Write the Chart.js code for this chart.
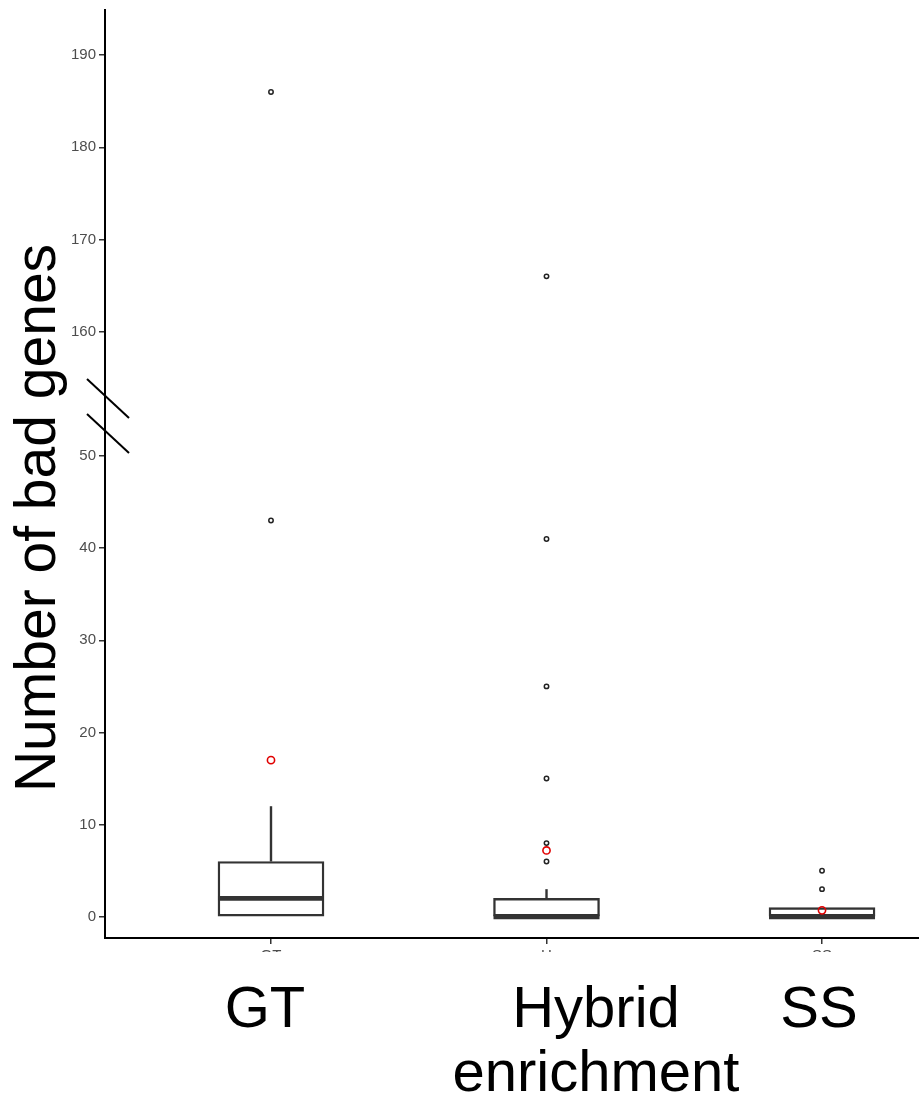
<!DOCTYPE html>
<html>
<head>
<meta charset="utf-8">
<script src="https://cdn.jsdelivr.net/npm/chart.js@4.4.1/dist/chart.umd.min.js"></script>
<style>
  body { margin: 0; background: #fff; }
  #wrap { position: relative; width: 919px; height: 1097px; overflow: hidden; font-family: "Liberation Sans", Arial, sans-serif; }
  #chart { position: absolute; left: 0; top: 0; }
  .cover { position: absolute; left: 0; top: 952px; width: 919px; height: 145px; background: #fff; }
  .xlab { position: absolute; top: 975px; font-size: 58px; line-height: 64px; color: #000; text-align: center; transform: translateX(-50%); white-space: nowrap; }
  .ytitle { position: absolute; left: -265px; top: 486px; width: 600px; height: 64px; font-size: 57px; line-height: 64px; text-align: center; color: #000; transform: rotate(-90deg); white-space: nowrap; }
</style>
</head>
<body>
<div id="wrap">
  <canvas id="chart" width="931" height="1097"></canvas>
  <div class="cover"></div>
  <div class="xlab" style="left:265px">GT</div>
  <div class="xlab" style="left:596px">Hybrid<br>enrichment</div>
  <div class="xlab" style="left:819px">SS</div>
  <div class="ytitle">Number of bad genes</div>
</div>
<script>
// groups and box statistics
const groups = ['GT', 'H', 'SS'];
const q1 = [0, 0, 0];
const medians = [2, 0, 0];
const q3 = [6, 2, 1];
const whiskerLow = [0, 0, 0];
const whiskerHigh = [12, 3, 1];
const means = [17, 7.2, 0.7];
const outliers = [[43, 186], [6, 8, 15, 25, 41, 166], [3, 5]];
const lowerTicks = [0, 10, 20, 30, 40, 50];
const upperTicks = [160, 170, 180, 190];

// broken axis: everything above breakAbove is shifted down by breakShift
const breakAbove = 100;
const breakShift = 96.5;
function toAxis(v) { return v > breakAbove ? v - breakShift : v; }

const boxHalf = 0.1924; // half box width in x units

const datasets = [];

datasets.push({
  type: 'bar',
  data: groups.map((g, i) => ({ x: i + 1, y: [q1[i], q3[i]] })),
  backgroundColor: '#ffffff',
  borderColor: '#333333',
  borderWidth: 2.4,
  borderSkipped: false,
  barThickness: 106,
  grouped: false,
  order: 5
});

groups.forEach((g, i) => {
  datasets.push({
    type: 'line',
    data: [{ x: i + 1, y: q3[i] }, { x: i + 1, y: whiskerHigh[i] }],
    borderColor: '#333333',
    borderWidth: 2.4,
    pointRadius: 0,
    pointHoverRadius: 0,
    order: 4
  });
  datasets.push({
    type: 'line',
    data: [{ x: i + 1, y: q1[i] }, { x: i + 1, y: whiskerLow[i] }],
    borderColor: '#333333',
    borderWidth: 2.4,
    pointRadius: 0,
    pointHoverRadius: 0,
    order: 4
  });
  // median
  datasets.push({
    type: 'line',
    data: [{ x: i + 1 - boxHalf, y: medians[i] }, { x: i + 1 + boxHalf, y: medians[i] }],
    borderColor: '#333333',
    borderWidth: 4.8,
    borderCapStyle: 'butt',
    pointRadius: 0,
    pointHoverRadius: 0,
    order: 3
  });
});

const outlierPoints = [];
outliers.forEach((arr, i) => arr.forEach(v => outlierPoints.push({ x: i + 1, y: toAxis(v) })));
datasets.push({
  type: 'scatter',
  data: outlierPoints,
  pointRadius: 2.2,
  borderColor: '#222222',
  borderWidth: 1.5,
  backgroundColor: '#ffffff',
  order: 2
});

datasets.push({
  type: 'scatter',
  data: groups.map((g, i) => ({ x: i + 1, y: means[i] })),
  pointRadius: 3.6,
  borderColor: '#e00000',
  borderWidth: 1.6,
  backgroundColor: 'rgba(0,0,0,0)',
  order: 1
});

function clearPadding(scale) {
  scale.paddingLeft = 0;
  scale.paddingRight = 0;
  scale.paddingTop = 0;
  scale.paddingBottom = 0;
}

// the two slashes on the y axis marking the break
const breakMarks = {
  id: 'breakMarks',
  afterDraw(chart) {
    const ctx = chart.ctx;
    const y = chart.scales.y;
    const cx = chart.chartArea.left + 3;
    const cy = y.getPixelForValue(54.35);
    ctx.save();
    ctx.strokeStyle = '#000';
    ctx.lineWidth = 2;
    [-17.5, 17.5].forEach(off => {
      ctx.beginPath();
      ctx.moveTo(cx - 21, cy + off - 19.5);
      ctx.lineTo(cx + 21, cy + off + 19.5);
      ctx.stroke();
    });
    ctx.restore();
  }
};

new Chart(document.getElementById('chart'), {
  type: 'bar',
  data: { datasets: datasets },
  options: {
    responsive: false,
    animation: false,
    layout: { padding: { top: 10, left: 0, right: 12, bottom: 0 } },
    plugins: { legend: { display: false }, tooltip: { enabled: false } },
    scales: {
      x: {
        type: 'linear',
        min: 0.3975,
        max: 3.352,
        offset: false,
        afterBuildTicks: scale => { scale.ticks = groups.map((g, i) => ({ value: i + 1 })); },
        afterFit: scale => { scale.height = 159; clearPadding(scale); },
        ticks: {
          autoSkip: false,
          maxRotation: 0,
          padding: 3,
          color: '#4d4d4d',
          font: { family: 'Liberation Sans', size: 15 },
          callback: v => groups[v - 1]
        },
        grid: { offset: false, drawOnChartArea: false, tickLength: 6, color: '#333333', lineWidth: 1.5 },
        border: { color: '#000', width: 2 }
      },
      y: {
        type: 'linear',
        min: -2.3,
        max: 98.4,
        afterBuildTicks: scale => {
          scale.ticks = lowerTicks.concat(upperTicks).map(v => ({ value: toAxis(v) }));
        },
        afterFit: scale => { scale.width = 105; clearPadding(scale); },
        ticks: {
          padding: 3,
          color: '#4d4d4d',
          font: { family: 'Liberation Sans', size: 15 },
          callback: v => (v > 57 ? Math.round(v + breakShift) : v)
        },
        grid: { drawOnChartArea: false, tickLength: 6, color: '#333333', lineWidth: 1.5 },
        border: { color: '#000', width: 2 }
      }
    }
  },
  plugins: [breakMarks]
});
</script>
</body>
</html>
